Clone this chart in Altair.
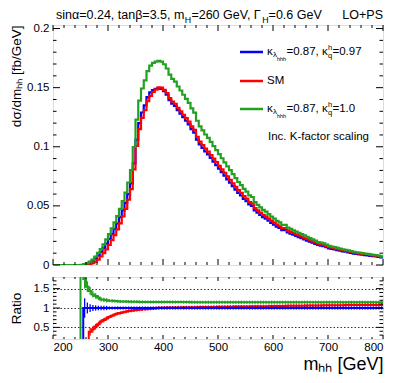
import altair as alt
import pandas as pd

FONT = "Liberation Sans"

# ---------------- data (5 GeV bins, lower edges 200..795) ----------------
edges = list(range(200, 800, 5))

blue_vals = [
    0, 0, 0, 0, 0, 0, 0, 0, 0, 0,
    0, 0.0004, 0.0010, 0.0020, 0.0034, 0.0055, 0.0080, 0.0110, 0.0145, 0.0180,
    0.0220, 0.0262, 0.0305, 0.0352, 0.0405, 0.0462, 0.0525, 0.0600, 0.0690, 0.0860,
    0.1060, 0.1200, 0.1290, 0.1350, 0.1420, 0.1460, 0.1480, 0.1490, 0.1495, 0.1490,
    0.1470, 0.1440, 0.1395, 0.1365, 0.1345, 0.1310, 0.1280, 0.1250, 0.1220, 0.1190,
    0.1150, 0.1120, 0.1060, 0.1020, 0.0990, 0.0960, 0.0935, 0.0905, 0.0875, 0.0845,
    0.0815, 0.0785, 0.0755, 0.0725, 0.0697, 0.0668, 0.0638, 0.0610, 0.0588, 0.0560,
    0.0540, 0.0512, 0.0500, 0.0462, 0.0443, 0.0424, 0.0405, 0.0393, 0.0375, 0.0356,
    0.0342, 0.0325, 0.0314, 0.0295, 0.0296, 0.0275, 0.0265, 0.0256, 0.0246, 0.0236,
    0.0227, 0.0217, 0.0207, 0.0198, 0.0188, 0.0179, 0.0169, 0.0164, 0.0159, 0.0150,
    0.0141, 0.0136, 0.0131, 0.0126, 0.0121, 0.0116, 0.0112, 0.0107, 0.0102, 0.0097,
    0.0094, 0.0090, 0.0087, 0.0084, 0.0082, 0.0078, 0.0075, 0.0072, 0.0069, 0.0064,
]

sm_vals = [
    0, 0, 0, 0, 0, 0, 0, 0, 0, 0,
    0, 0, 0, 0.0008, 0.0015, 0.0029, 0.0046, 0.0072, 0.0100, 0.0131,
    0.0169, 0.0210, 0.0253, 0.0301, 0.0352, 0.0411, 0.0475, 0.0552, 0.0642, 0.0808,
    0.1007, 0.1150, 0.1245, 0.1310, 0.1385, 0.1431, 0.1465, 0.1483, 0.1502, 0.1500,
    0.1482, 0.1454, 0.1412, 0.1383, 0.1364, 0.1330, 0.1300, 0.1271, 0.1242, 0.1213,
    0.1173, 0.1144, 0.1083, 0.1043, 0.1014, 0.0984, 0.0959, 0.0929, 0.0900, 0.0870,
    0.0839, 0.0809, 0.0779, 0.0749, 0.0721, 0.0691, 0.0661, 0.0633, 0.0610, 0.0582,
    0.0562, 0.0533, 0.0521, 0.0482, 0.0462, 0.0443, 0.0424, 0.0411, 0.0393, 0.0373,
    0.0359, 0.0342, 0.0330, 0.0311, 0.0312, 0.0290, 0.0280, 0.0271, 0.0260, 0.0250,
    0.0241, 0.0230, 0.0220, 0.0210, 0.0200, 0.0191, 0.0180, 0.0175, 0.0170, 0.0160,
    0.0151, 0.0146, 0.0140, 0.0135, 0.0130, 0.0125, 0.0120, 0.0115, 0.0110, 0.0104,
    0.0101, 0.0097, 0.0094, 0.0091, 0.0089, 0.0084, 0.0081, 0.0078, 0.0075, 0.0069,
]

green_vals = [
    0, 0, 0, 0, 0, 0, 0, 0, 0, 0,
    0.0002, 0.0007, 0.0016, 0.0029, 0.0046, 0.0072, 0.0102, 0.0134, 0.0175, 0.0216,
    0.0262, 0.0310, 0.0360, 0.0414, 0.0474, 0.0540, 0.0612, 0.0698, 0.0802, 0.0998,
    0.1230, 0.1390, 0.1493, 0.1561, 0.1640, 0.1686, 0.1709, 0.1721, 0.1727, 0.1721,
    0.1698, 0.1662, 0.1610, 0.1575, 0.1551, 0.1510, 0.1476, 0.1440, 0.1405, 0.1371,
    0.1324, 0.1289, 0.1220, 0.1173, 0.1139, 0.1104, 0.1075, 0.1041, 0.1006, 0.0972,
    0.0937, 0.0903, 0.0868, 0.0834, 0.0802, 0.0768, 0.0734, 0.0702, 0.0676, 0.0644,
    0.0621, 0.0589, 0.0575, 0.0531, 0.0509, 0.0488, 0.0466, 0.0452, 0.0431, 0.0409,
    0.0393, 0.0374, 0.0361, 0.0339, 0.0340, 0.0316, 0.0305, 0.0294, 0.0283, 0.0271,
    0.0261, 0.0250, 0.0238, 0.0228, 0.0216, 0.0206, 0.0194, 0.0189, 0.0183, 0.0173,
    0.0162, 0.0156, 0.0151, 0.0145, 0.0139, 0.0133, 0.0129, 0.0123, 0.0117, 0.0112,
    0.0108, 0.0104, 0.0100, 0.0097, 0.0094, 0.0090, 0.0086, 0.0083, 0.0079, 0.0074,
]

ratio_blue = [0] * 11 + [1.0] * 109

ratio_sm = [
    0, 0, 0, 0, 0, 0, 0, 0, 0, 0,
    0, 0, 0, 0.39, 0.45, 0.52, 0.58, 0.65, 0.69, 0.73,
    0.77, 0.80, 0.83, 0.855, 0.87, 0.89, 0.905, 0.92, 0.93, 0.94,
    0.95, 0.958, 0.965, 0.97, 0.975, 0.98, 0.99, 0.995, 1.005, 1.007,
    1.008, 1.010, 1.012, 1.013, 1.014, 1.015, 1.016, 1.017, 1.018, 1.019,
    1.020, 1.021, 1.022, 1.023, 1.024, 1.025, 1.026, 1.027, 1.028, 1.029,
    1.030, 1.031, 1.032, 1.033, 1.034, 1.035, 1.036, 1.037, 1.038, 1.039,
    1.040, 1.041, 1.042, 1.043, 1.044, 1.045, 1.046, 1.047, 1.048, 1.049,
    1.050, 1.051, 1.052, 1.053, 1.054, 1.055, 1.056, 1.057, 1.058, 1.059,
    1.060, 1.061, 1.062, 1.063, 1.064, 1.065, 1.066, 1.067, 1.068, 1.069,
    1.070, 1.070, 1.071, 1.072, 1.073, 1.074, 1.075, 1.075, 1.076, 1.077,
    1.078, 1.078, 1.079, 1.080, 1.080, 1.080, 1.080, 1.080, 1.080, 1.080,
]

ratio_green = (
    [0] * 10
    + [5.0, 1.75, 1.55, 1.44, 1.35, 1.31, 1.27, 1.22, 1.21, 1.20]
    + [1.19, 1.185, 1.18, 1.175, 1.17, 1.168, 1.166, 1.164, 1.162, 1.16]
    + [1.16, 1.158, 1.157, 1.156, 1.155, 1.155, 1.155, 1.155, 1.155, 1.155]
    + [1.155, 1.154, 1.154, 1.154, 1.153, 1.153, 1.153, 1.152, 1.152, 1.152]
    + [1.151, 1.151, 1.151, 1.15, 1.15, 1.15, 1.15, 1.15, 1.15, 1.15]
    + [1.15] * 60
)

ratio_err = [0] * 11 + [0.25, 0.14, 0.10, 0.08, 0.07, 0.06, 0.055, 0.055, 0.055] + [0.04] * 100

x_major = [200, 300, 400, 500, 600, 700, 800]
x_minor = [220, 240, 260, 280, 320, 340, 360, 380, 420, 440, 460, 480,
           520, 540, 560, 580, 620, 640, 660, 680, 720, 740, 760, 780]
y_major = [0, 0.05, 0.1, 0.15, 0.2]
y_minor = [0.01, 0.02, 0.03, 0.04, 0.06, 0.07, 0.08, 0.09,
           0.11, 0.12, 0.13, 0.14, 0.16, 0.17, 0.18, 0.19]
r_major = [0.5, 1.0, 1.5]
r_minor = [0.3, 0.4, 0.6, 0.7, 0.8, 0.9, 1.1, 1.2, 1.3, 1.4, 1.6, 1.7]

BLUE, RED, GREEN = "#0000ff", "#ff0000", "#22a022"

# ---------------- layout ----------------
W, H, HR = 330, 240, 62
YMAX = 0.203

xs = alt.Scale(domain=[200, 800], nice=False, zero=False)
ys = alt.Scale(domain=[0, YMAX], nice=False, zero=True)
rs = alt.Scale(domain=[0.2, 1.8], nice=False, zero=False)


def step_df(vals):
    return pd.DataFrame({"x": edges + [800], "v": vals + [vals[-1]]})


main_y_axis = alt.Axis(values=y_major, format="~g", ticks=False, domain=False, grid=False,
                       labelFontSize=11.5, labelPadding=4, labelFont=FONT,
                       title="dσ/dmₕₕ [fb/GeV]", titleFontSize=13.5, titleFontWeight="normal",
                       titleFont=FONT, titleAnchor="end", titleX=-37, titleAngle=270,
                       titleBaseline="middle")
ratio_y_axis = alt.Axis(values=r_major, format="~g", ticks=False, domain=False, grid=True,
                        gridDash=[1.5, 2], gridColor="black", gridOpacity=1, gridWidth=0.8,
                        labelFontSize=11.5, labelPadding=4, labelFont=FONT,
                        title="Ratio", titleFontSize=13.5, titleFontWeight="normal",
                        titleFont=FONT, titleX=-37, titleAngle=270, titleBaseline="middle")
ratio_x_axis = alt.Axis(values=x_major, format="d", ticks=False, domain=False, grid=False,
                        labelFontSize=11.5, labelPadding=2, labelFont=FONT,
                        title="mₕₕ [GeV]", titleFontSize=18, titleFontWeight="normal",
                        titleFont=FONT, titleAnchor="end", titlePadding=3)


def line(vals, color, xaxis, yaxis, scale, width):
    return alt.Chart(step_df(vals)).mark_line(
        interpolate="step-after", color=color, strokeWidth=width, clip=True
    ).encode(
        x=alt.X("x:Q", scale=xs, axis=xaxis),
        y=alt.Y("v:Q", scale=scale, axis=yaxis),
    )


def xticks(vals, length, h, xaxis):
    df = pd.DataFrame({"x": vals})
    b = alt.Chart(df).mark_rule(color="black", strokeWidth=1).encode(
        x=alt.X("x:Q", scale=xs, axis=xaxis), y=alt.value(h), y2=alt.value(h - length))
    t = alt.Chart(df).mark_rule(color="black", strokeWidth=1).encode(
        x=alt.X("x:Q", scale=xs, axis=xaxis), y=alt.value(0), y2=alt.value(length))
    return [b, t]


def yticks(vals, length, scale, yaxis):
    df = pd.DataFrame({"v": vals})
    l = alt.Chart(df).mark_rule(color="black", strokeWidth=1).encode(
        y=alt.Y("v:Q", scale=scale, axis=yaxis), x=alt.value(0), x2=alt.value(length))
    r = alt.Chart(df).mark_rule(color="black", strokeWidth=1).encode(
        y=alt.Y("v:Q", scale=scale, axis=yaxis), x=alt.value(W), x2=alt.value(W - length))
    return [l, r]


one = pd.DataFrame({"a": [0]})


def label(text, x, y, size, align="left", color="black"):
    return alt.Chart(one).mark_text(
        text=text, align=align, baseline="middle", fontSize=size, font=FONT, color=color
    ).encode(x=alt.value(x), y=alt.value(y))


def legline(color, y):
    return alt.Chart(one).mark_rule(color=color, strokeWidth=2.5).encode(
        x=alt.value(187), x2=alt.value(210), y=alt.value(y))


TS = 12.5
TY = -10
title_layers = [
    label("sinα=0.24, tanβ=3.5, m", 3, TY, TS),
    label("H", 131.8, TY + 4.5, 8.8),
    label("=260 GeV, Γ", 138.4, TY, TS),
    label("H", 209.2, TY + 4.5, 8.8),
    label("=0.6 GeV", 215.6, TY, TS),
    label("LO+PS", W, TY, TS, align="right"),
]

LS = 11.5


def kappa_label(y, tail):
    return [
        label("κ", 214, y, LS),
        label("λ", 220, y + 3, 8),
        label("hhh", 224, y + 6.5, 5.5),
        label("=0.87, κ", 233.5, y, LS),
        label("h", 275, y - 4.5, 7.5),
        label("q", 275, y + 3.5, 7.5),
        label(tail, 279.5, y, LS),
    ]


legend_layers = (
    [legline(BLUE, 27), legline(RED, 56), legline(GREEN, 84)]
    + kappa_label(27, "=0.97")
    + [label("SM", 214, 56, LS)]
    + kappa_label(84, "=1.0")
    + [label("Inc. K-factor scaling", 215, 112, LS)]
)

main = alt.layer(
    line(blue_vals, BLUE, None, main_y_axis, ys, 2.2),
    line(sm_vals, RED, None, main_y_axis, ys, 2.2),
    line(green_vals, GREEN, None, main_y_axis, ys, 2.2),
    *xticks(x_major, 6, H, None), *xticks(x_minor, 3, H, None),
    *yticks(y_major, 7, ys, main_y_axis), *yticks(y_minor, 3.5, ys, main_y_axis),
    *title_layers, *legend_layers,
).properties(width=W, height=H)


def ratio_err_bars(vals, color):
    rows = [{"x": e + 2.5, "v": r - s, "v2": r + s}
            for e, r, s in zip(edges, vals, ratio_err) if r > 0 and s > 0]
    return alt.Chart(pd.DataFrame(rows)).mark_rule(color=color, strokeWidth=1.3, clip=True).encode(
        x=alt.X("x:Q", scale=xs, axis=ratio_x_axis),
        y=alt.Y("v:Q", scale=rs, axis=ratio_y_axis),
        y2="v2:Q",
    )


ratio = alt.layer(
    line(ratio_green, GREEN, ratio_x_axis, ratio_y_axis, rs, 2),
    ratio_err_bars(ratio_green, GREEN),
    line(ratio_sm, RED, ratio_x_axis, ratio_y_axis, rs, 2),
    ratio_err_bars(ratio_sm, RED),
    line(ratio_blue, BLUE, ratio_x_axis, ratio_y_axis, rs, 2),
    ratio_err_bars(ratio_blue, BLUE),
    *xticks(x_major, 4, HR, ratio_x_axis), *xticks(x_minor, 2, HR, ratio_x_axis),
    *yticks(r_major, 7, rs, ratio_y_axis), *yticks(r_minor, 3.5, rs, ratio_y_axis),
).properties(width=W, height=HR)

chart = alt.vconcat(main, ratio, spacing=5).properties(padding=0).configure_view(
    stroke="black", strokeWidth=1.2
).configure(font=FONT)

chart.save("out.html", embed_options={"renderer": "svg", "actions": False})
